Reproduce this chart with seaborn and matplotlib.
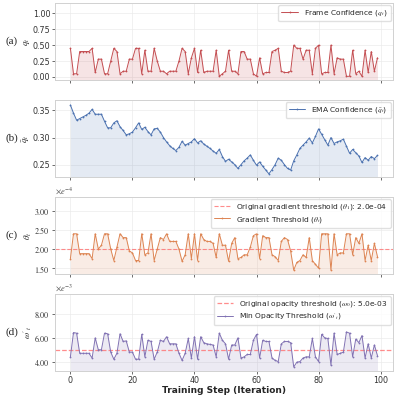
import numpy as np
import pandas as pd
import seaborn as sns
import matplotlib.pyplot as plt
from matplotlib.ticker import FuncFormatter, MultipleLocator

# values (100 training steps)
steps = list(range(100))

frame_conf = [0.45, 0.05, 0.05, 0.40, 0.40, 0.40, 0.40, 0.45, 0.07, 0.28,
              0.28, 0.05, 0.05, 0.25, 0.45, 0.40, 0.05, 0.09, 0.09, 0.28,
              0.28, 0.45, 0.45, 0.05, 0.42, 0.09, 0.09, 0.45, 0.25, 0.09,
              0.09, 0.05, 0.09, 0.09, 0.09, 0.25, 0.45, 0.40, 0.05, 0.30,
              0.45, 0.07, 0.42, 0.07, 0.09, 0.09, 0.09, 0.42, 0.01, 0.05,
              0.09, 0.42, 0.09, 0.09, 0.05, 0.40, 0.40, 0.28, 0.28, 0.05,
              0.01, 0.30, 0.05, 0.07, 0.07, 0.40, 0.42, 0.45, 0.09, 0.07,
              0.07, 0.09, 0.50, 0.45, 0.45, 0.28, 0.42, 0.42, 0.05, 0.45,
              0.50, 0.05, 0.07, 0.07, 0.50, 0.05, 0.30, 0.28, 0.28, 0.01,
              0.01, 0.42, 0.05, 0.09, 0.01, 0.42, 0.07, 0.40, 0.09, 0.30]

ema_conf = [0.360, 0.345, 0.332, 0.335, 0.338, 0.341, 0.345, 0.352, 0.343, 0.343,
            0.343, 0.330, 0.318, 0.318, 0.327, 0.331, 0.320, 0.313, 0.305, 0.307,
            0.310, 0.318, 0.327, 0.315, 0.319, 0.311, 0.305, 0.316, 0.317, 0.310,
            0.300, 0.292, 0.285, 0.280, 0.276, 0.282, 0.293, 0.286, 0.289, 0.292,
            0.298, 0.290, 0.294, 0.288, 0.284, 0.280, 0.275, 0.271, 0.278, 0.265,
            0.256, 0.260, 0.255, 0.250, 0.243, 0.250, 0.257, 0.262, 0.268, 0.258,
            0.249, 0.255, 0.247, 0.240, 0.233, 0.241, 0.250, 0.262, 0.258, 0.250,
            0.243, 0.240, 0.257, 0.268, 0.280, 0.286, 0.292, 0.299, 0.290, 0.302,
            0.316, 0.306, 0.296, 0.286, 0.300, 0.289, 0.292, 0.294, 0.297, 0.284,
            0.271, 0.278, 0.272, 0.266, 0.254, 0.263, 0.258, 0.265, 0.261, 0.267]

# gradient threshold, in units of 1e-4
grad_thr = [1.75, 2.40, 2.40, 1.88, 1.88, 1.88, 1.88, 1.75, 2.40, 2.00,
            2.10, 2.40, 2.40, 2.00, 1.70, 2.05, 2.40, 2.30, 2.30, 1.95,
            1.90, 1.70, 1.70, 2.40, 1.85, 1.90, 2.40, 1.70, 2.00, 2.30,
            2.25, 2.40, 2.20, 2.20, 2.20, 2.00, 1.68, 1.85, 2.40, 1.75,
            2.40, 1.70, 2.40, 2.25, 2.20, 2.20, 2.15, 1.78, 2.40, 2.10,
            2.10, 1.68, 2.15, 2.30, 1.75, 1.78, 1.85, 1.85, 2.05, 2.35,
            2.40, 1.75, 2.35, 2.30, 2.30, 1.85, 1.80, 1.70, 2.20, 2.30,
            2.25, 1.95, 1.45, 1.65, 1.70, 1.85, 1.78, 2.30, 1.70, 1.60,
            1.50, 2.40, 2.40, 2.40, 1.45, 2.40, 1.85, 1.90, 1.90, 2.40,
            2.40, 1.85, 2.30, 2.15, 2.40, 1.70, 2.10, 1.70, 2.15, 1.80]

# min opacity threshold, in units of 1e-3
opac_thr = [4.40, 6.45, 6.40, 4.70, 4.70, 4.70, 4.70, 4.30, 6.00, 5.00,
            5.00, 6.40, 6.35, 4.80, 4.20, 4.70, 6.35, 5.70, 5.75, 4.80,
            4.80, 4.20, 4.20, 6.30, 4.40, 5.80, 5.70, 4.20, 4.80, 5.80,
            5.70, 6.10, 5.50, 5.50, 5.50, 4.70, 4.10, 4.70, 5.95, 4.30,
            6.10, 4.20, 6.10, 5.60, 5.50, 5.45, 5.40, 4.40, 6.40, 5.80,
            5.50, 4.20, 5.40, 5.40, 6.00, 4.30, 4.40, 4.60, 4.60, 5.80,
            6.30, 4.30, 5.80, 5.70, 5.70, 4.30, 4.10, 4.00, 5.50, 5.70,
            5.70, 5.60, 3.55, 3.95, 4.00, 4.30, 4.40, 4.40, 5.95, 4.40,
            4.00, 6.30, 6.00, 5.95, 3.70, 6.40, 4.60, 4.70, 4.80, 6.50,
            6.40, 4.40, 5.90, 5.60, 6.20, 4.30, 5.50, 4.30, 5.40, 4.50]

grad_orig = 2.0   # x 1e-4
opac_orig = 5.0   # x 1e-3

df = pd.DataFrame({"step": steps, "q": frame_conf, "ema": ema_conf,
                   "grad": grad_thr, "opac": opac_thr})

sns.set_theme(style="whitegrid", rc={
    "axes.edgecolor": "0.82",
    "grid.color": "0.92",
    "grid.linewidth": 0.5,
    "axes.linewidth": 0.7,
    "xtick.bottom": True,
    "ytick.left": True,
    "xtick.major.size": 2,
    "ytick.major.size": 2,
    "xtick.major.width": 0.5,
    "ytick.major.width": 0.5,
    "xtick.color": "0.2",
    "ytick.color": "0.2",
    "xtick.labelsize": 5.8,
    "ytick.labelsize": 5.8,
    "axes.labelsize": 6.5,
    "legend.fontsize": 5.4,
    "mathtext.fontset": "stix",
})
pal = sns.color_palette("deep")

fig, axes = plt.subplots(4, 1, figsize=(3.96, 3.96), dpi=100, sharex=True)
fig.subplots_adjust(left=0.139, right=0.992, top=0.992, bottom=0.063, hspace=0.26)

math_fmt = FuncFormatter(lambda v, p: f"${v:.2f}$")

panels = [
    ("q", pal[3], r"Frame Confidence ($q_t$)", r"$q_t$", (-0.05, 1.16), "(a)"),
    ("ema", pal[0], r"EMA Confidence ($\bar{q}_t$)", r"$\bar{q}_t$", (0.227, 0.369), "(b)"),
    ("grad", pal[1], r"Gradient Threshold ($\theta_t$)", r"$\theta_t$", (1.345, 3.36), "(c)"),
    ("opac", pal[4], r"Min Opacity Threshold ($\omega'_t$)", r"$\omega'_t$", (3.2, 9.7), "(d)"),
]

for ax, (col, c, lab, ylab, ylim, tag) in zip(axes, panels):
    if col == "grad":
        ax.axhline(grad_orig, color="#ff7070", ls="--", lw=0.8, alpha=0.8,
                   label=r"Original gradient threshold ($\theta_1$): 2.0e-04")
    if col == "opac":
        ax.axhline(opac_orig, color="#ff7070", ls="--", lw=0.9, alpha=0.8,
                   label=r"Original opacity threshold ($\omega_0$): 5.0e-03")
    sns.lineplot(data=df, x="step", y=col, ax=ax, color=c, lw=0.7,
                 marker=".", markersize=2.6, markeredgewidth=0, label=lab)
    ax.fill_between(df["step"], df[col], ylim[0], color=c, alpha=0.15, lw=0)
    ax.set_ylim(*ylim)
    ax.set_ylabel(ylab, labelpad=0)
    ax.set_xlabel("")
    ax.tick_params(axis="both", pad=1.5)
    for s in ax.spines.values():
        s.set_visible(True)
    ax.text(-0.128, 0.5, tag, transform=ax.transAxes, ha="center", va="center",
            fontsize=8, family="Liberation Serif")
    ax.legend(loc="upper right", frameon=True, edgecolor="0.85", fancybox=True,
              borderpad=0.4, handlelength=2.2, labelspacing=0.3,
              borderaxespad=0.3)

axes[0].yaxis.set_major_locator(MultipleLocator(0.25))
axes[1].yaxis.set_major_locator(MultipleLocator(0.05))
axes[2].yaxis.set_major_locator(MultipleLocator(0.5))
axes[3].yaxis.set_major_locator(MultipleLocator(2.0))
axes[2].yaxis.set_major_formatter(math_fmt)
axes[3].yaxis.set_major_formatter(math_fmt)
axes[2].text(0.0, 1.02, r"$\times e^{-4}$", transform=axes[2].transAxes,
             ha="left", va="bottom", fontsize=6, color="0.3")
axes[3].text(0.0, 1.02, r"$\times e^{-3}$", transform=axes[3].transAxes,
             ha="left", va="bottom", fontsize=6, color="0.3")

axes[3].set_xlim(-4.95, 103.95)
axes[3].xaxis.set_major_locator(MultipleLocator(20))
axes[3].set_xlabel("Training Step (Iteration)", fontweight="bold", labelpad=0.5)

fig.savefig("out.png", dpi=100)
